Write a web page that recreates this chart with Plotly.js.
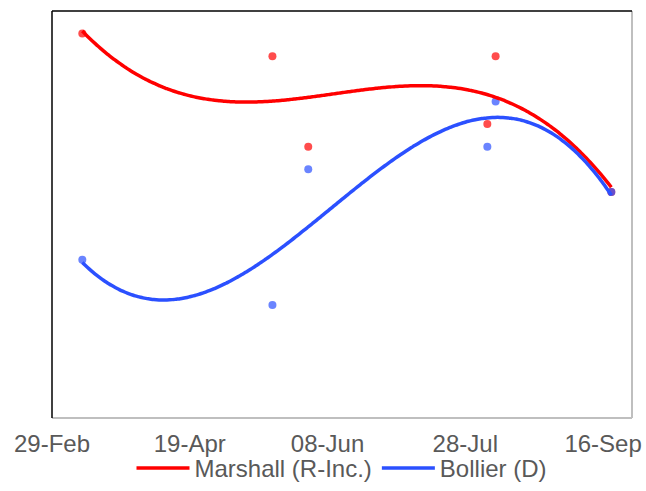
<!DOCTYPE html>
<html>
<head>
<meta charset="utf-8">
<script src="https://cdn.plot.ly/plotly-3.0.1.min.js"></script>
<style>html,body{margin:0;padding:0;background:#fff;}#chart{width:646px;height:491px;}</style>
</head>
<body>
<div id="chart"></div>
<script>
// Poll dates and values (percent)
const pollDates = ['2020-03-11', '2020-05-19', '2020-06-01', '2020-08-05', '2020-08-08', '2020-09-19'];
const marshall = [47, 46, 42, 43, 46, 40];
const bollier  = [37, 35, 41, 42, 44, 40];
const tickDates = ['2020-02-29', '2020-04-19', '2020-06-08', '2020-07-28', '2020-09-16'];
const seriesNames = ['Marshall (R-Inc.)', 'Bollier (D)'];

const BASE = Date.parse('2020-02-29');
const DAY = 86400000;
function toDay(d) { return (Date.parse(d) - BASE) / DAY; }

// least-squares polynomial trendline (like a spreadsheet's polynomial trendline)
function polyfit(xs, ys, deg) {
  const n = deg + 1;
  const A = Array.from({length: n}, () => new Array(n + 1).fill(0));
  for (let k = 0; k < xs.length; k++) {
    const x = xs[k] / 100;
    for (let i = 0; i < n; i++) {
      for (let j = 0; j < n; j++) A[i][j] += Math.pow(x, i + j);
      A[i][n] += ys[k] * Math.pow(x, i);
    }
  }
  for (let c = 0; c < n; c++) {
    let p = c;
    for (let r = c + 1; r < n; r++) if (Math.abs(A[r][c]) > Math.abs(A[p][c])) p = r;
    [A[c], A[p]] = [A[p], A[c]];
    for (let r = 0; r < n; r++) {
      if (r === c) continue;
      const f = A[r][c] / A[c][c];
      for (let j = c; j <= n; j++) A[r][j] -= f * A[c][j];
    }
  }
  const coef = A.map((row, i) => row[n] / row[i]);
  return x => coef.reduce((s, c, i) => s + c * Math.pow(x / 100, i), 0);
}

const xDays = pollDates.map(toDay);
function trend(ys, deg) {
  const f = polyfit(xDays, ys, deg);
  const lo = Math.min(...xDays), hi = Math.max(...xDays);
  const xs = [], yv = [];
  for (let i = 0; i <= 200; i++) {
    const t = lo + (hi - lo) * i / 200;
    xs.push(new Date(BASE + t * DAY).toISOString().slice(0, 19).replace('T', ' '));
    yv.push(f(t));
  }
  return {xs, yv};
}

const DEG = 3;
const tm = trend(marshall, DEG);
const tb = trend(bollier, DEG);

const red = '#ff0000', blue = '#2b50ff';

const traces = [
  {x: pollDates, y: marshall, type: 'scatter', mode: 'markers', showlegend: false,
   marker: {size: 8, color: 'rgba(255,0,0,0.7)'}, hoverinfo: 'skip'},
  {x: pollDates, y: bollier, type: 'scatter', mode: 'markers', showlegend: false,
   marker: {size: 8, color: 'rgba(43,80,255,0.7)'}, hoverinfo: 'skip'},
  {x: tm.xs, y: tm.yv, type: 'scatter', mode: 'lines', name: seriesNames[0],
   line: {color: red, width: 3.5, shape: 'spline'}},
  {x: tb.xs, y: tb.yv, type: 'scatter', mode: 'lines', name: seriesNames[1],
   line: {color: blue, width: 3.5, shape: 'spline'}}
];

const layout = {
  width: 646, height: 491,
  margin: {l: 52, r: 14, t: 11, b: 0},
  paper_bgcolor: '#fff', plot_bgcolor: '#fff',
  font: {family: 'Liberation Sans, Arial, sans-serif', color: '#595959', size: 24},
  xaxis: {
    type: 'date', range: ['2020-02-29', '2020-09-26 12:00'],
    tickvals: tickDates, tickformat: '%d-%b',
    showgrid: false, zeroline: false, showline: false, ticks: '',
    ticklabelstandoff: 9, automargin: false,
    tickfont: {size: 24, color: '#595959'}
  },
  yaxis: {
    domain: [0.152, 1],
    range: [30, 48], showgrid: false, zeroline: false, showline: false,
    showticklabels: false, ticks: ''
  },
  showlegend: true,
  legend: {orientation: 'h', x: 0.5, xanchor: 'center', y: 0, yanchor: 'bottom',
           font: {size: 24, color: '#595959'}, itemwidth: 53,
           bgcolor: 'rgba(0,0,0,0)'},
  shapes: [
    {type: 'line', xref: 'x domain', yref: 'y domain', x0: 0, x1: 1, y0: 0, y1: 0, line: {color: '#bfbfbf', width: 2}},
    {type: 'line', xref: 'x domain', yref: 'y domain', x0: 1, x1: 1, y0: 0, y1: 1, line: {color: '#bfbfbf', width: 2}},
    {type: 'line', xref: 'x domain', yref: 'y domain', x0: 0, x1: 1, y0: 1, y1: 1, line: {color: '#000', width: 1.5}},
    {type: 'line', xref: 'x domain', yref: 'y domain', x0: 0, x1: 0, y0: 0, y1: 1, line: {color: '#000', width: 1.5}}
  ]
};

Plotly.newPlot('chart', traces, layout, {displayModeBar: false, staticPlot: true});
</script>
</body>
</html>
